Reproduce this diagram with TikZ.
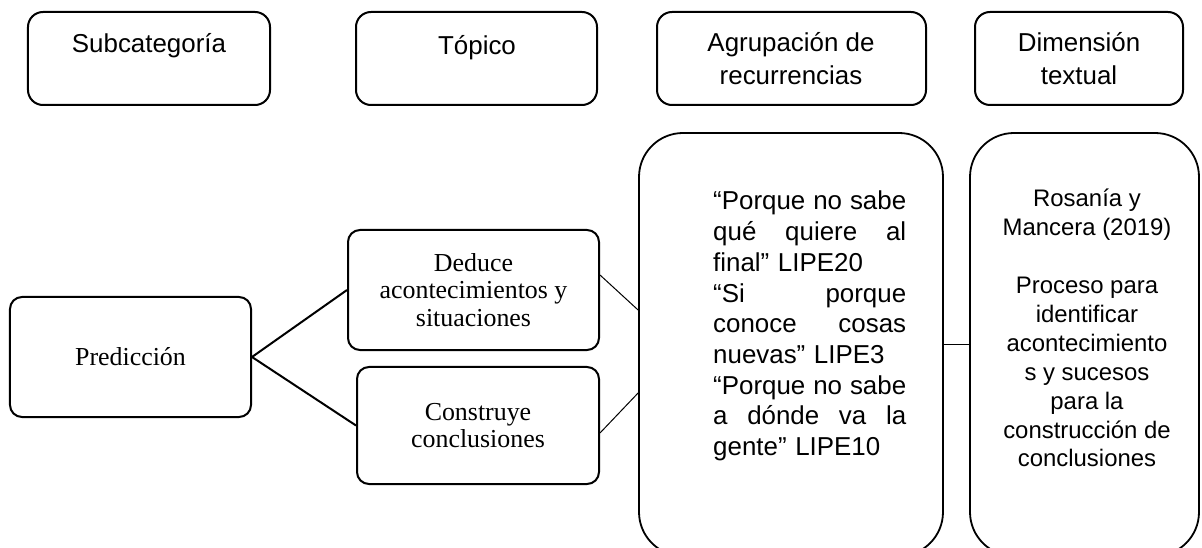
\documentclass[tikz,border=0pt]{standalone}
\usepackage{fontspec}
\setmainfont{Liberation Serif}
\newfontfamily\arialfont{Liberation Sans}
\begin{document}
\begin{tikzpicture}[x=1bp,y=-1bp,
  topbox/.style={draw, line width=2bp, rounded corners=15bp, minimum height=93bp, inner sep=0pt},
  toptext/.style={font=\arialfont\fontsize{26}{33}\selectfont, inner sep=0pt, align=center},
  midbox/.style={draw, line width=2bp, rounded corners=12bp, inner sep=0pt, align=center,
    font=\fontsize{26}{27.5}\selectfont},
  bigbox/.style={draw, line width=1.8bp, rounded corners=44bp, inner sep=0pt},
  thickline/.style={line width=2bp},
  thinline/.style={line width=1bp}]
\useasboundingbox (0,0) rectangle (1202,548);

% top row
\node[topbox, minimum width=242bp] (sub) at (149,58.5) {};
\node[toptext, anchor=base] (subT) at (149,53) {Subcategoría};
\node[topbox, minimum width=241bp] (top) at (476.5,58.5) {};
\node[toptext, anchor=base] (topT) at (477,55) {Tópico};
\node[topbox, minimum width=269bp] (agrh) at (791.5,58.5) {};
\node[toptext, anchor=north] (agrhT) at (791,32) {Agrupación de\\recurrencias};
\node[topbox, minimum width=208bp] (dimh) at (1079,58.5) {};
\node[toptext, anchor=north] (dimhT) at (1079,32) {Dimensión\\textual};

% lower part
\node[midbox, minimum width=241bp, minimum height=120bp] (pred) at (130.5,357) {Predicción};
\node[midbox, minimum width=251bp, minimum height=120bp] (ded) at (473.5,290) {Deduce\\acontecimientos y\\situaciones};
\node[midbox, minimum width=242bp, minimum height=117bp] (con) at (478,425.5) {Construye\\conclusiones};

\node[bigbox, minimum width=304bp, minimum height=423bp] (agr) at (791,344.5) {};
\node[bigbox, minimum width=229bp, minimum height=423bp] (dim) at (1084.5,344.5) {};

\node[anchor=north west, inner sep=0pt, text width=193bp, align=left,
  font=\arialfont\fontsize{26}{30.8}\selectfont] (agrT) at (713,191)
{“Porque\hfill no\hfill sabe\\
qué\hfill quiere\hfill al\\
final” LIPE20\\
“Si\hfill porque\\
conoce\hfill cosas\\
nuevas” LIPE3\\
“Porque\hfill no\hfill sabe\\
a\hfill dónde\hfill va\hfill la\\
gente” LIPE10};

\node[anchor=north, inner sep=0pt, align=center,
  font=\arialfont\fontsize{24}{29}\selectfont] (dimT) at (1087,189)
{Rosanía y\\Mancera (2019)\\[29bp]Proceso para\\identificar\\acontecimiento\\s y sucesos\\para la\\construcción de\\conclusiones};

% connectors
\draw[thickline] (pred.east) -- (ded.west);
\draw[thickline] (pred.east) -- (con.west);
\draw[thinline] ([yshift=15bp]ded.east) -- ([yshift=34.5bp]agr.west);
\draw[thinline] ([yshift=-7.5bp]con.east) -- ([yshift=-48.5bp]agr.west);
\draw[thinline] (agr.east) -- (dim.west);
\end{tikzpicture}
\end{document}
